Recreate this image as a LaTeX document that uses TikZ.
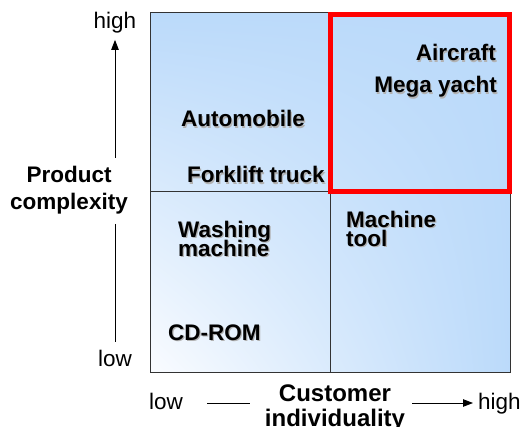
\documentclass[tikz,border=0pt]{standalone}
\usepackage{fontspec}
\setmainfont{Liberation Sans}
\usetikzlibrary{arrows.meta,shadings}
\definecolor{qblue}{RGB}{187,218,250}
\definecolor{qwhite}{RGB}{250,252,255}
\definecolor{gridgray}{RGB}{51,51,51}
\definecolor{hired}{RGB}{255,0,0}
% bold label with a soft grey drop shadow
\newcommand\shd[1]{\rlap{\kern1.2pt\raisebox{-1.2pt}{\color{black!30}#1}}#1}
\begin{document}
\begin{tikzpicture}[x=1pt,y=1pt,
  lab/.style={inner sep=0pt,
    font={\fontsize{22.5}{18.5}\selectfont\bfseries\lineskiplimit=-30pt}},
  axislab/.style={inner sep=0pt, font=\fontsize{22.5}{26}\selectfont},
  axistitle/.style={inner sep=0pt, align=center,
    font={\fontsize{22.5}{27}\selectfont\bfseries\lineskiplimit=-30pt}},
  gridline/.style={draw=gridgray, line width=1pt},
  axisline/.style={line width=0.9pt},
  axisarrow/.style={line width=0.9pt, -{Triangle[length=10pt,width=7.5pt]}}]
\useasboundingbox (0,0) rectangle (527,426);

% portfolio square with its quadrants
\coordinate (sw) at (150,54);
\coordinate (ne) at (510,413);
\coordinate (mid) at (330,234);
\shade[lower left=qwhite, upper left=qblue, upper right=qblue, lower right=qblue]
  (sw) rectangle (ne);
\draw[gridline] (sw) rectangle (ne);
\draw[gridline] (mid |- sw) -- (mid |- ne);
\draw[gridline] (mid -| sw) -- (mid -| ne);

% highlighted quadrant
\draw[hired, line width=5pt] (330.5,234.5) rectangle (509.5,411.5);

% quadrant entries
\node[lab, anchor=base west] (auto) at (181,299) {\shd{Automobile}};
\node[lab, anchor=base west] (fork) at (187,243) {\shd{Forklift truck}};
\node[lab, anchor=base east] (air) at (496,365) {\shd{Aircraft}};
\node[lab, anchor=base east] (yacht) at (497,333) {\shd{Mega yacht}};
\node[lab, anchor=north west, align=left] (wash) at (178,205)
  {\shd{Washing}\\\shd{machine}};
\node[lab, anchor=north west, align=left,
  font={\fontsize{22.5}{19}\selectfont\bfseries\lineskiplimit=-30pt}] (mtool) at (346,215)
  {\shd{Machine}\\\shd{tool}};
\node[lab, anchor=base west] (cd) at (168,86) {\shd{CD-ROM}};

% vertical axis
\node[axistitle, anchor=north] (ytitle) at (69,260) {Product\\complexity};
\node[axislab, anchor=base] (yhigh) at (115,397) {high};
\node[axislab, anchor=base] (ylow) at (115,60) {low};
\coordinate (yup) at (115,268);
\coordinate (ydown) at (115,202);
\draw[axisarrow, shorten >=6pt] (yup) -- (yhigh);
\draw[axisline, shorten >=7.5pt] (ydown) -- (ylow);

% horizontal axis
\node[axistitle, anchor=north,
  font={\fontsize{24}{25}\selectfont\bfseries\lineskiplimit=-30pt}] (xtitle) at (335,41.5)
  {Customer\\individuality};
\node[axislab, anchor=base] (xlow) at (166,17) {low};
\node[axislab, anchor=base west] (xhigh) at (478,17) {high};
\coordinate (xl0) at (207,23);
\coordinate (xl1) at (250,23);
\coordinate (xr0) at (412,23);
\draw[axisline] (xl0) -- (xl1);
\draw[axisarrow, shorten >=5pt] (xr0) -- (xr0 -| xhigh.west);
\end{tikzpicture}
\end{document}
